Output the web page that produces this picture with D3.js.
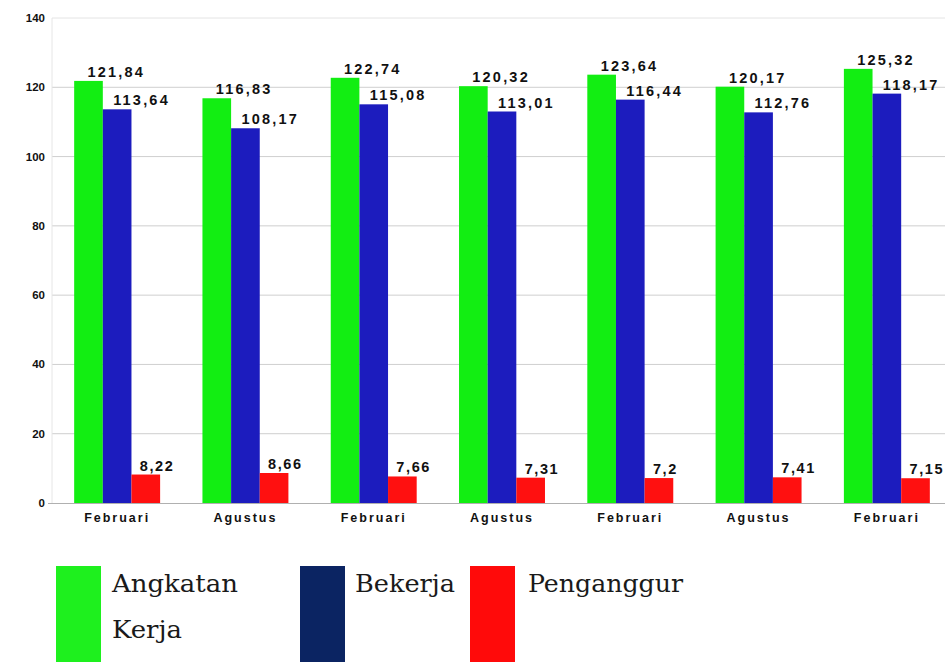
<!DOCTYPE html>
<html><head><meta charset="utf-8">
<script src="https://cdn.jsdelivr.net/npm/d3@7"></script>
<style>body{margin:0;background:#fff;}svg{display:block;}</style>
</head><body>
<svg id="c" width="945" height="662"></svg>
<script>
const categories = ["Februari","Agustus","Februari","Agustus","Februari","Agustus","Februari"];
const angkatanKerja = [121.84,116.83,122.74,120.32,123.64,120.17,125.32];
const bekerja = [113.64,108.17,115.08,113.01,116.44,112.76,118.17];
const penganggur = [8.22,8.66,7.66,7.31,7.2,7.41,7.15];
const valueLabels = {
  a:["121,84","116,83","122,74","120,32","123,64","120,17","125,32"],
  b:["113,64","108,17","115,08","113,01","116,44","112,76","118,17"],
  p:["8,22","8,66","7,66","7,31","7,2","7,41","7,15"]
};
const yTicks = [0,20,40,60,80,100,120,140];
const seriesNames = ["Angkatan Kerja","Bekerja","Penganggur"];

const svg = d3.select("#c");
const y = d3.scaleLinear().domain([0,140]).range([503,18]);
const x = d3.scaleBand().domain(d3.range(categories.length)).range([53,951]).paddingInner(0.33).paddingOuter(0.165);
const xs = d3.scaleBand().domain([0,1,2]).range([0,x.bandwidth()]);

// gridlines
svg.append("g").selectAll("line").data(yTicks.filter(t=>t>0)).join("line")
  .attr("x1",52).attr("x2",945).attr("y1",d=>y(d)).attr("y2",d=>y(d))
  .attr("stroke",d=>d===140?"#e4e4e4":"#cfcfcf").attr("stroke-width",1);
svg.append("line").attr("x1",52).attr("x2",52).attr("y1",18).attr("y2",503).attr("stroke","#e6e6e6");
svg.append("line").attr("x1",48).attr("x2",945).attr("y1",503.5).attr("y2",503.5).attr("stroke","#b0b0b0");

// y axis labels
svg.append("g").selectAll("text").data(yTicks).join("text")
  .attr("x",45).attr("y",d=>y(d)+4).attr("text-anchor","end")
  .attr("font-family","Liberation Sans, Arial, sans-serif").attr("font-weight","bold").attr("font-size",11.5)
  .attr("fill","#111").text(d=>d);

const series = [
  {vals:angkatanKerja, labels:valueLabels.a, color:"#12ee12", off:-1, ls:2.2},
  {vals:bekerja, labels:valueLabels.b, color:"#1c1cbe", off:-4, ls:2.2},
  {vals:penganggur, labels:valueLabels.p, color:"#ff1010", off:-6, ls:1.6}
];
series.forEach((s,si)=>{
  const g = svg.append("g");
  g.selectAll("rect").data(s.vals).join("rect")
    .attr("x",(d,i)=>x(i)+xs(si)).attr("width",xs.bandwidth())
    .attr("y",d=>y(d)).attr("height",d=>y(0)-y(d)).attr("fill",s.color);
  g.selectAll("text").data(s.vals).join("text")
    .attr("x",(d,i)=>x(i)+xs(si)+xs.bandwidth()/2+s.off)
    .attr("y",d=>y(d)-4)
    .attr("font-family","Liberation Sans, Arial, sans-serif").attr("font-weight","bold")
    .attr("font-size",14.5).attr("letter-spacing",s.ls).attr("fill","#111")
    .text((d,i)=>s.labels[i]);
});

// x labels
svg.append("g").selectAll("text").data(categories).join("text")
  .attr("x",(d,i)=>x(i)+x.bandwidth()/2).attr("y",522).attr("text-anchor","middle")
  .attr("font-family","Liberation Sans, Arial, sans-serif").attr("font-weight","bold")
  .attr("font-size",12.5).attr("letter-spacing",2).attr("fill","#111").text(d=>d);

// legend
const legendColors = ["#1ef01e","#0b2462","#ff0a0a"];
const legendX = [56,300,470];
const legend = svg.append("g");
seriesNames.forEach((n,i)=>{
  legend.append("rect").attr("x",legendX[i]).attr("y",566).attr("width",45).attr("height",96).attr("fill",legendColors[i]);
});
const lt = (txt,xx,yy,w)=>legend.append("text").attr("x",xx).attr("y",yy)
  .attr("font-family","DejaVu Serif, serif").attr("font-size",25).attr("fill","#1a1a1a")
  .attr("textLength",w).attr("lengthAdjust","spacingAndGlyphs").text(txt);
lt("Angkatan",112,592,126);
lt("Kerja",112,638,70);
lt("Bekerja",355,592,100);
lt("Penganggur",528,592,155);
</script>
</body></html>
